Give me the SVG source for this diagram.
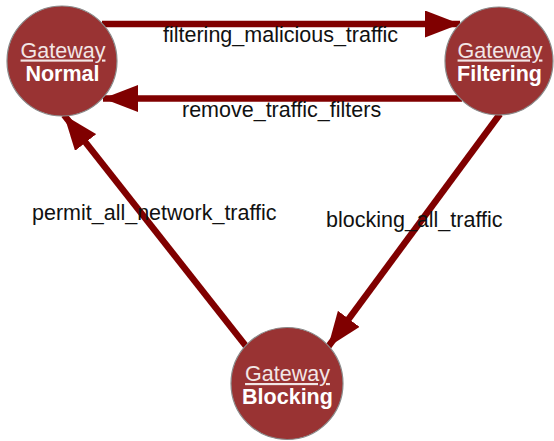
<svg xmlns="http://www.w3.org/2000/svg" width="554" height="441" viewBox="0 0 554 441">
<style>
.node{fill:#993333;stroke:#8a8a8a;stroke-width:1.2}
.t{font-family:"Liberation Sans",Arial,sans-serif;font-size:21.5px;fill:#ffffff;text-anchor:middle}
.u{text-decoration:underline;fill:#f2e6e6}
.b{font-weight:bold}
.edge{stroke:#800000;stroke-width:6.5;fill:none}
.lbl{font-family:"Liberation Sans",Arial,sans-serif;font-size:21.5px;fill:#111111}
</style>
<defs>
<marker id="ah" viewBox="0 0 35 27" refX="35" refY="13.5" markerWidth="35" markerHeight="27" markerUnits="userSpaceOnUse" orient="auto">
<path d="M0,0 L35,13.5 L0,27 Z" fill="#800000"/>
</marker>
</defs>
<rect width="554" height="441" fill="#ffffff"/>
<g id="connectors">
<line class="edge" x1="102" y1="24" x2="460" y2="24" marker-end="url(#ah)"/>
<line class="edge" x1="462" y1="98.5" x2="103" y2="98.5" marker-end="url(#ah)"/>
<line class="edge" x1="500" y1="114" x2="328" y2="347" marker-end="url(#ah)"/>
<line class="edge" x1="249" y1="350" x2="64" y2="115" marker-end="url(#ah)"/>
<text class="lbl" x="163" y="41.5">filtering_malicious_traffic</text>
<text class="lbl" x="182" y="117">remove_traffic_filters</text>
<text class="lbl" x="326" y="227">blocking_all_traffic</text>
<text class="lbl" x="32" y="220">permit_all_network_traffic</text>
</g>
<g id="normal">
<circle class="node" cx="62" cy="61" r="55"/>
<text class="t u" x="63" y="57.5">Gateway</text>
<text class="t b" x="62.5" y="80.5">Normal</text>
</g>
<g id="filtering">
<circle class="node" cx="499" cy="61" r="54"/>
<text class="t u" x="500" y="57.5">Gateway</text>
<text class="t b" x="499.5" y="80.5">Filtering</text>
</g>
<g id="blocking">
<circle class="node" cx="287" cy="383.5" r="56"/>
<text class="t u" x="287.5" y="381">Gateway</text>
<text class="t b" x="287.5" y="404">Blocking</text>
</g>
</svg>
